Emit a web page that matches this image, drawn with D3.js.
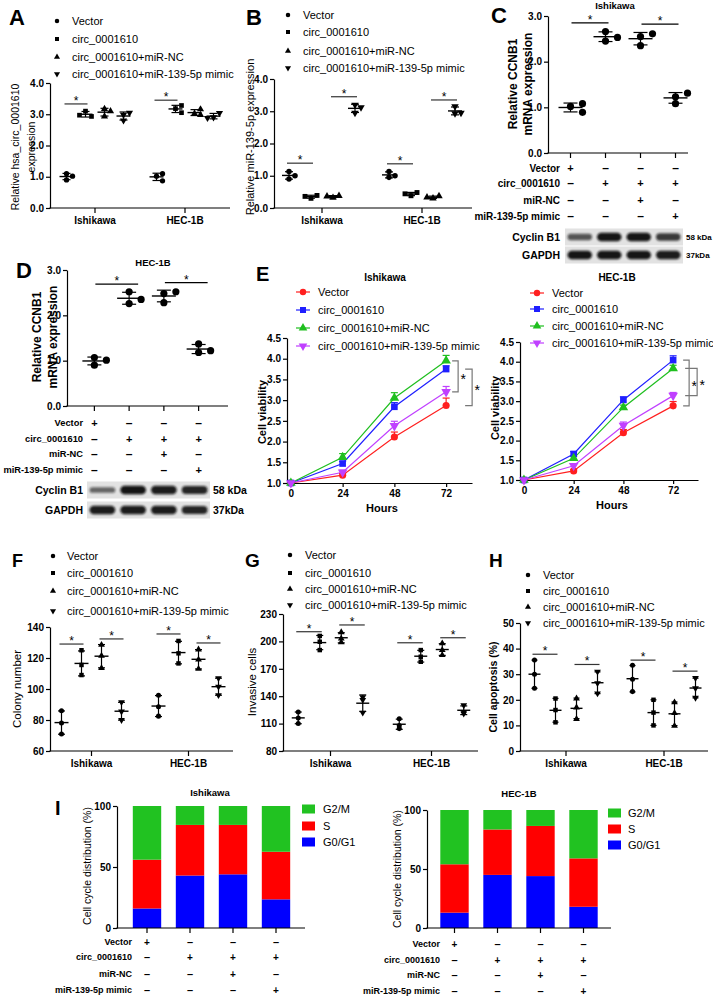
<!DOCTYPE html>
<html><head><meta charset="utf-8">
<script src="https://cdn.jsdelivr.net/npm/d3@7"></script>
<style>body{margin:0;background:#fff}svg{display:block}</style>
</head><body>
<svg id="c" width="713" height="996"></svg>
<script>
// ================= DATA =================
const cellLines = ["Ishikawa", "HEC-1B"];
const groupNames = ["Vector", "circ_0001610", "circ_0001610+miR-NC", "circ_0001610+miR-139-5p mimic"];
const conditionRows = ["Vector", "circ_0001610", "miR-NC", "miR-139-5p mimic"];
const conditionSigns = [["+","–","–","–"],["–","+","+","+"],["–","–","+","–"],["–","–","–","+"]];

// A: relative hsa_circ_0001610 expression (3 replicates / group)
const circExprIshikawa = [[1.1,0.9,1.02],[3.1,2.93,2.97],[3.17,2.93,3.1],[2.98,2.8,3.05]];
const circExprHEC      = [[1.02,0.87,1.1],[3.18,3.05,3.28],[3.02,3.16,2.98],[2.9,3.04,2.88]];
const circExprSig      = [[0,0,1,3.33],[1,0,1,3.45]];           // [cell line, group a, group b, level]

// B: relative miR-139-5p expression
const mirExprIshikawa = [[0.9,1.13,1.0],[0.3,0.39,0.36],[0.32,0.38,0.36],[2.95,3.2,3.12]];
const mirExprHEC      = [[0.95,1.13,1.0],[0.38,0.48,0.44],[0.3,0.37,0.33],[2.93,3.15,2.95]];
const mirExprSig      = [[0,0,1,1.39],[0,2,3,3.45],[1,0,1,1.37],[1,2,3,3.35]];

// C / D: relative CCNB1 mRNA expression
const ccnb1Ishikawa    = [[1.02,0.89,1.08],[2.45,2.66,2.53],[2.55,2.35,2.61],[1.23,1.08,1.31]];
const ccnb1IshikawaSig = [[0,1,2.85],[2,3,2.82]];
const ccnb1HEC         = [[0.9,1.07,1.01],[2.26,2.52,2.35],[2.48,2.28,2.52],[1.18,1.37,1.22]];
const ccnb1HECSig      = [[0,1,2.69],[2,3,2.72]];
const blotProteins = ["Cyclin B1", "GAPDH"];
const blotSizes    = ["58 kDa", "37kDa"];
const blotCyclinIshikawa = [0.55,0.95,0.95,0.72];
const blotGapdhIshikawa  = [0.95,0.95,0.95,0.9];
const blotCyclinHEC      = [0.45,0.95,0.9,0.85];
const blotGapdhHEC       = [0.9,0.9,0.9,0.85];

// E: cell viability (CCK-8)
const hours = [0, 24, 48, 72];
const viabIshVector = [1.0,1.19,2.11,2.87], viabIshVectorSD = [0,0.04,0.12,0.18];
const viabIshCirc   = [1.0,1.47,2.84,3.75], viabIshCircSD   = [0,0.05,0.1,0.08];
const viabIshNC     = [1.0,1.62,3.05,3.95], viabIshNCSD     = [0,0.09,0.13,0.13];
const viabIshMimic  = [1.0,1.26,2.38,3.2],  viabIshMimicSD  = [0,0.05,0.11,0.13];
const viabHECVector = [1.0,1.23,2.2,2.88],  viabHECVectorSD = [0,0.04,0.08,0.11];
const viabHECCirc   = [1.0,1.66,3.03,4.04], viabHECCircSD   = [0,0.06,0.08,0.11];
const viabHECNC     = [1.0,1.55,2.84,3.83], viabHECNCSD     = [0,0.05,0.06,0.08];
const viabHECMimic  = [1.0,1.36,2.38,3.14], viabHECMimicSD  = [0,0.05,0.09,0.08];
const viabIshSig = [[2,3],[1,0]];   // compared series at 72 h
const viabHECSig = [[1,0],[2,3]];

// F: colony number
const colonyIshikawa = [[86,78,71],[125,115.5,109],[128.5,121.5,113.5],[91.5,85.5,80]];
const colonyHEC      = [[96,88.5,82.5],[131,123,116.5],[125.5,119,113],[107,101.5,96]];
const colonySig      = [[0,0,1,129],[0,2,3,132.3],[1,0,1,135.5],[1,2,3,129.7]];

// G: invasive cells
const invasionIshikawa = [[122.8,116,110],[206,199.6,190.5],[210,203,199],[139,136,122]];
const invasionHEC      = [[115.4,108,104.5],[190.5,183.2,177.7],[197.8,190.5,185],[130,121,122.8]];
const invasionSig      = [[0,0,1,210.6],[0,2,3,218],[1,0,1,198.5],[1,2,3,204]];

// H: cell apoptosis (%)
const apoptosisIshikawa = [[35.5,30,24.5],[20.5,16,11.2],[20.5,17,12.5],[31,26.5,22.5]];
const apoptosisHEC      = [[33.5,28,23.2],[20,15,10],[19,14.8,9.8],[28.5,24.5,20.8]];
const apoptosisSig      = [[0,0,1,37.8],[0,2,3,33.8],[1,0,1,35.5],[1,2,3,31.2]];

// I: cell cycle distribution (%)
const phases = ["G0/G1", "S", "G2/M"];
const cycleIshG0G1 = [16, 43, 44, 23.5];
const cycleIshS    = [40, 41.5, 40.5, 39];
const cycleIshG2M  = [44, 15.5, 15.5, 37.5];
const cycleHECG0G1 = [13, 45, 44, 18];
const cycleHECS    = [41, 38.5, 42.5, 41];
const cycleHECG2M  = [46, 16.5, 13.5, 41];

// ================= DRAWING =================
const FONT = '"Liberation Sans", Arial, Helvetica, sans-serif';
const svg = d3.select("#c");
svg.append("defs").append("filter").attr("id","blur").attr("x","-20%").attr("y","-60%").attr("width","140%").attr("height","220%")
  .append("feGaussianBlur").attr("stdDeviation", 1.3);

function txt(g, x, y, s, o = {}) {
  const t = g.append("text").attr("x", x).attr("y", y).text(s)
    .attr("font-family", FONT).attr("font-size", o.size || 11)
    .attr("font-weight", o.bold ? "bold" : "normal")
    .attr("text-anchor", o.anchor || "start").attr("fill", o.fill || "#000");
  if (o.baseline) t.attr("dominant-baseline", o.baseline);
  if (o.rotate) t.attr("transform", `rotate(${o.rotate},${x},${y})`);
  return t;
}
function styleAxis(sel, size = 10, bold = true) {
  sel.attr("font-family", null).attr("font-size", null);
  sel.selectAll("text").attr("font-family", FONT).attr("font-size", size)
    .attr("font-weight", bold ? "bold" : "normal").attr("fill", "#000");
  sel.selectAll("line,path").attr("stroke", "#000").attr("stroke-width", 1.2);
}
const symTypes = [d3.symbolCircle, d3.symbolSquare, d3.symbolTriangle, d3.symbolTriangle];
const symRot = [0, 0, 0, 180];
function marker(g, x, y, i, size, fill) {
  g.append("path").attr("d", d3.symbol(symTypes[i], size)())
    .attr("transform", `translate(${x},${y}) rotate(${symRot[i]})`).attr("fill", fill || "#000");
}
function hline(g, x1, x2, y, w = 1.2, c = "#000") {
  g.append("line").attr("x1", x1).attr("x2", x2).attr("y1", y).attr("y2", y).attr("stroke", c).attr("stroke-width", w);
}
function vline(g, x, y1, y2, w = 1.2, c = "#000") {
  g.append("line").attr("x1", x).attr("x2", x).attr("y1", y1).attr("y2", y2).attr("stroke", c).attr("stroke-width", w);
}
function swarm(ys, d, r) {
  const placed = [];
  return ys.map(yv => {
    for (const off of [0, d, -d, 2 * d, -2 * d]) {
      if (placed.every(p => Math.hypot(p[0] - off, p[1] - yv) >= 2 * r)) { placed.push([off, yv]); return off; }
    }
    placed.push([0, yv]); return 0;
  });
}
function yTitle(g, lines, xs, cy, size, bold) {
  lines.forEach((l, i) => txt(g, xs[i], cy, l, {size, bold, anchor: "middle", baseline: "central", rotate: -90}));
}
function panelLabel(t, x, y, size) { txt(svg, x, y, t, {size, bold: true}); }

// ---------- grouped dot plots (A, B, F, G, H) ----------
function dotPanel(o) {
  const g = svg.append("g");
  const y = d3.scaleLinear().domain(o.yDomain).range(o.yRange);
  const xc = d3.scaleBand().domain(cellLines).range(o.catRange);
  const xi = d3.scaleBand().domain(d3.range(4)).range([-o.inner, o.inner]);
  const gx = (c, i) => xc(cellLines[c]) + xc.bandwidth() / 2 + xi(i) + xi.bandwidth() / 2;
  const yB = o.yRange[0];
  const ya = g.append("g").attr("transform", `translate(${o.axisX[0]},0)`)
    .call(d3.axisLeft(y).tickValues(o.yTicks).tickSize(4).tickPadding(2).tickSizeOuter(0));
  styleAxis(ya);
  const xa = g.append("g").attr("transform", `translate(0,${yB})`)
    .call(d3.axisBottom(xc).tickSize(5).tickPadding(4));
  xa.select(".domain").remove();
  styleAxis(xa);
  hline(g, o.axisX[0] - 0.6, o.axisX[1], yB);

  o.data.forEach((cell, c) => cell.forEach((vals, i) => {
    const cx = gx(c, i);
    const pos = swarm(vals.map(v => y(v)), o.jitter, o.r);
    vals.forEach((v, k) => marker(g, cx + pos[k], y(v), i, o.msize));
    const m = d3.mean(vals), sd = d3.deviation(vals);
    hline(g, cx - o.meanHW, cx + o.meanHW, y(m), 1.4);
    vline(g, cx, y(m - sd), y(m + sd), 1.2);
    hline(g, cx - o.capHW, cx + o.capHW, y(m - sd), 1.2);
    hline(g, cx - o.capHW, cx + o.capHW, y(m + sd), 1.2);
  }));
  o.sig.forEach(([c, a, b, lv]) => {
    const x1 = gx(c, a) - 2, x2 = gx(c, b) + 2, yy = y(lv);
    hline(g, x1, x2, yy, 1.2, "#333");
    txt(g, (x1 + x2) / 2, yy + 1, "*", {size: 12, anchor: "middle"});
  });
  groupNames.forEach((n, i) => {
    marker(g, o.legend.x, o.legend.ys[i], i, 16);
    txt(g, o.legend.tx, o.legend.ys[i], n, {size: 11, baseline: "central"});
  });
  yTitle(g, o.ytitle.lines, o.ytitle.xs, o.ytitle.cy, o.ytitle.size, o.ytitle.bold);
}

// ---------- condition dot plot + table + blot (C, D) ----------
function condPanel(o) {
  const g = svg.append("g");
  const y = d3.scaleLinear().domain([0, 3]).range(o.yRange);
  const x = d3.scaleBand().domain(d3.range(4)).range(o.catRange);
  const cx = i => x(i) + x.bandwidth() / 2;
  const yB = o.yRange[0];
  const ya = g.append("g").attr("transform", `translate(${o.axisX[0]},0)`)
    .call(d3.axisLeft(y).tickValues([0, 1, 2, 3]).tickSize(4).tickPadding(2).tickSizeOuter(0));
  styleAxis(ya);
  const xa = g.append("g").attr("transform", `translate(0,${yB})`)
    .call(d3.axisBottom(x).tickSize(5).tickFormat(""));
  xa.select(".domain").remove();
  styleAxis(xa);
  hline(g, o.axisX[0] - 0.6, o.axisX[1], yB);
  o.data.forEach((vals, i) => {
    const c = cx(i);
    const pos = swarm(vals.map(v => y(v)), 12, 3.2);
    vals.forEach((v, k) => g.append("circle").attr("cx", c + pos[k]).attr("cy", y(v)).attr("r", 3.6).attr("fill", "#000"));
    const m = d3.mean(vals), sd = d3.deviation(vals);
    hline(g, c - 12, c + 12, y(m), 1.4);
    vline(g, c, y(m - sd), y(m + sd), 1.2);
    hline(g, c - 7, c + 7, y(m - sd), 1.2);
    hline(g, c - 7, c + 7, y(m + sd), 1.2);
  });
  o.sig.forEach(([a, b, lv]) => {
    const x1 = cx(a) + o.sigShift[0], x2 = cx(b) + o.sigShift[1], yy = y(lv);
    hline(g, x1, x2, yy, 1.2);
    txt(g, (x1 + x2) / 2, yy + 1, "*", {size: 12, anchor: "middle"});
  });
  txt(g, o.title.x, o.title.y, o.title.t, {size: 9.5, bold: true, anchor: "middle", baseline: "central"});
  yTitle(g, ["Relative CCNB1", "mRNA expression"], o.ytitleX, o.ytitleY, 12, true);
  conditionRows.forEach((r, ri) => {
    txt(g, o.labelX, o.rows[ri], r, {size: o.tableSize, bold: true, anchor: "end", baseline: "central"});
    conditionSigns[ri].forEach((s, j) => txt(g, cx(j), o.rows[ri], s, {size: s === "+" ? 11 : 12, bold: true, anchor: "middle", baseline: "central"}));
  });
  const lanes = d3.scaleBand().domain(d3.range(4)).range([o.blot.x0, o.blot.x1]);
  [o.blot.cyclin, o.blot.gapdh].forEach((vals, ri) => {
    const yc = o.blot.ys[ri];
    g.append("rect").attr("x", o.blot.x0).attr("y", yc - 8.5).attr("width", o.blot.x1 - o.blot.x0).attr("height", 17).attr("fill", "#e2e2e2");
    vals.forEach((v, j) => {
      const h = 3 + 6 * v;
      g.append("rect").attr("x", lanes(j) + 2.5).attr("y", yc - h / 2).attr("width", lanes.bandwidth() - 5).attr("height", h)
        .attr("rx", h / 2).attr("fill", "#111").attr("opacity", 0.25 + 0.75 * v).attr("filter", "url(#blur)");
    });
    txt(g, o.labelX, yc, blotProteins[ri], {size: 10.5, bold: true, anchor: "end", baseline: "central"});
    txt(g, o.blot.x1 + 3, yc, blotSizes[ri], {size: o.blot.kdaSize, bold: true, baseline: "central"});
  });
}

// ---------- line charts (E) ----------
const seriesColors = ["#ff1f1f", "#1f1fff", "#1fbf1f", "#c040ff"];
function linePanel(o) {
  const g = svg.append("g");
  const x = d3.scaleLinear().domain(o.xDomain).range(o.xRange);
  const y = d3.scaleLinear().domain([1, 4.5]).range(o.yRange);
  const ya = g.append("g").attr("transform", `translate(${o.xRange[0]},0)`)
    .call(d3.axisLeft(y).tickValues([1, 1.5, 2, 2.5, 3, 3.5, 4, 4.5]).tickFormat(d3.format(".1f")).tickSize(4).tickPadding(2).tickSizeOuter(0));
  styleAxis(ya);
  const xa = g.append("g").attr("transform", `translate(0,${o.yRange[0]})`)
    .call(d3.axisBottom(x).tickValues(hours).tickSize(4).tickPadding(3).tickSizeOuter(0));
  styleAxis(xa);
  const line = d3.line().x((d, k) => x(hours[k])).y(d => y(d));
  o.series.forEach((s, i) => {
    g.append("path").attr("d", line(s.vals)).attr("fill", "none").attr("stroke", seriesColors[i]).attr("stroke-width", 1.2);
    s.vals.forEach((v, k) => {
      if (s.sd[k] > 0) {
        vline(g, x(hours[k]), y(v), y(v + s.sd[k]), 1.2, seriesColors[i]);
        hline(g, x(hours[k]) - 3.5, x(hours[k]) + 3.5, y(v + s.sd[k]), 1.2, seriesColors[i]);
      }
    });
  });
  o.series.forEach((s, i) => s.vals.forEach((v, k) => marker(g, x(hours[k]), y(v), i, i === 1 ? 44 : 40, seriesColors[i])));
  o.sig.forEach(([a, b], j) => {
    const bx = x(72) + o.bx[j], tl = o.bt[j];
    const y1 = y(o.series[a].vals[3]), y2 = y(o.series[b].vals[3]);
    g.append("path").attr("d", `M${bx - tl},${y1}H${bx}V${y2}H${bx - tl}`).attr("fill", "none").attr("stroke", "#777").attr("stroke-width", 1.2);
    txt(g, bx + 5, (y1 + y2) / 2 + 8, "*", {size: 14, anchor: "middle"});
  });
  groupNames.forEach((n, i) => {
    hline(g, o.legend.x - 7, o.legend.x + 7, o.legend.ys[i], 1.2, seriesColors[i]);
    marker(g, o.legend.x, o.legend.ys[i], i, i === 1 ? 36 : 32, seriesColors[i]);
    txt(g, o.legend.tx, o.legend.ys[i], n, {size: 11, baseline: "central"});
  });
  txt(g, o.title.x, o.title.y, o.title.t, {size: 10, bold: true, anchor: "middle", baseline: "central"});
  txt(g, o.hoursPos[0], o.hoursPos[1], "Hours", {size: 11, bold: true, anchor: "middle", baseline: "central"});
  yTitle(g, ["Cell viability"], [o.ytitle[0]], o.ytitle[1], 11, true);
}

// ---------- stacked bars (I) ----------
const phaseColors = {"G0/G1": "#0000ff", "S": "#ff0000", "G2/M": "#21c221"};
function stackPanel(o) {
  const g = svg.append("g");
  const y = d3.scaleLinear().domain([0, 100]).range(o.yRange);
  const x = d3.scaleBand().domain(d3.range(4)).range(o.bandRange).paddingInner(0.34).paddingOuter(0.17);
  const rows = d3.range(4).map(i => ({"G0/G1": o.g0[i], "S": o.s[i], "G2/M": o.g2[i]}));
  const stacked = d3.stack().keys(phases)(rows);
  stacked.forEach(layer => layer.forEach((d, i) => {
    g.append("rect").attr("x", x(i)).attr("width", x.bandwidth())
      .attr("y", y(d[1])).attr("height", y(d[0]) - y(d[1])).attr("fill", phaseColors[layer.key]);
  }));
  const ya = g.append("g").attr("transform", `translate(${o.axisX[0]},0)`)
    .call(d3.axisLeft(y).tickValues([0, 50, 100]).tickSize(4).tickPadding(2).tickSizeOuter(0));
  styleAxis(ya);
  const xa = g.append("g").attr("transform", `translate(0,${o.yRange[0]})`)
    .call(d3.axisBottom(x).tickSize(5).tickFormat(""));
  xa.select(".domain").remove();
  styleAxis(xa);
  hline(g, o.axisX[0] - 0.6, o.axisX[1], o.yRange[0]);
  ["G2/M", "S", "G0/G1"].forEach((p, i) => {
    g.append("rect").attr("x", o.legend.x).attr("y", o.legend.ys[i] - 4.5).attr("width", 13).attr("height", 9).attr("fill", phaseColors[p]);
    txt(g, o.legend.tx, o.legend.ys[i], p, {size: 11, baseline: "central"});
  });
  txt(g, o.title.x, o.title.y, o.title.t, {size: 9.5, bold: true, anchor: "middle", baseline: "central"});
  yTitle(g, ["Cell cycle distribution (%)"], [o.ytitle[0]], o.ytitle[1], 10.5, false);
  conditionRows.forEach((r, ri) => {
    txt(g, o.labelX, o.rows[ri], r, {size: 9, bold: true, anchor: "end", baseline: "central"});
    conditionSigns[ri].forEach((s, j) => txt(g, x(j) + x.bandwidth() / 2, o.rows[ri], s, {size: s === "+" ? 10 : 11, bold: true, anchor: "middle", baseline: "central"}));
  });
}

// ================= PANELS =================
// A
dotPanel({axisX: [50, 230], catRange: [50, 230], inner: 38, yDomain: [0, 4], yRange: [208, 83], yTicks: [0, 1, 2, 3, 4],
  data: [circExprIshikawa, circExprHEC], sig: circExprSig, jitter: 6, r: 2.8, msize: 22, meanHW: 7, capHW: 4,
  legend: {x: 57, tx: 72, ys: [21, 39, 57, 74]},
  ytitle: {lines: ["Relative  hsa_circ_0001610", "expression"], xs: [15, 31], cy: 147, size: 10.5, bold: false}});
panelLabel("A", 9, 25, 22);
// B
dotPanel({axisX: [274, 472], catRange: [272, 472], inner: 44, yDomain: [0, 4], yRange: [208, 79], yTicks: [0, 1, 2, 3, 4],
  data: [mirExprIshikawa, mirExprHEC], sig: mirExprSig, jitter: 6, r: 2.8, msize: 24, meanHW: 7, capHW: 4,
  legend: {x: 288, tx: 303, ys: [15, 32, 51, 68]},
  ytitle: {lines: ["Relative miR-139-5p expression"], xs: [250], cy: 137, size: 11, bold: false}});
panelLabel("B", 246, 25, 22);
// C
condPanel({axisX: [548, 688], catRange: [553, 693], yRange: [153, 16], data: ccnb1Ishikawa, sig: ccnb1IshikawaSig, sigShift: [1, 3],
  title: {t: "Ishikawa", x: 615, y: 5}, ytitleX: [513, 528], ytitleY: 84,
  labelX: 560, rows: [168, 183, 200, 216], tableSize: 10,
  blot: {x0: 565, x1: 683, ys: [237, 255], cyclin: blotCyclinIshikawa, gapdh: blotGapdhIshikawa, kdaSize: 8}});
panelLabel("C", 491, 23, 22);
// D
condPanel({axisX: [67, 228], catRange: [77, 216], yRange: [406, 270], data: ccnb1HEC, sig: ccnb1HECSig, sigShift: [1, 9],
  title: {t: "HEC-1B", x: 153, y: 262}, ytitleX: [37, 53], ytitleY: 337,
  labelX: 83, rows: [423, 439, 454, 470], tableSize: 9.3,
  blot: {x0: 87, x1: 210, ys: [490, 510], cyclin: blotCyclinHEC, gapdh: blotGapdhHEC, kdaSize: 10.5}});
panelLabel("D", 16, 278, 22);
// E
linePanel({xDomain: [-1.8, 84], xRange: [287, 472], yRange: [483, 338],
  series: [{vals: viabIshVector, sd: viabIshVectorSD}, {vals: viabIshCirc, sd: viabIshCircSD},
           {vals: viabIshNC, sd: viabIshNCSD}, {vals: viabIshMimic, sd: viabIshMimicSD}],
  sig: viabIshSig, bx: [12, 26], bt: [6, 7],
  legend: {x: 303, tx: 318, ys: [292, 310, 328, 346]},
  title: {t: "Ishikawa", x: 385, y: 277}, hoursPos: [382, 508], ytitle: [262, 412]});
linePanel({xDomain: [-1.9, 84], xRange: [520, 698], yRange: [480, 342],
  series: [{vals: viabHECVector, sd: viabHECVectorSD}, {vals: viabHECCirc, sd: viabHECCircSD},
           {vals: viabHECNC, sd: viabHECNCSD}, {vals: viabHECMimic, sd: viabHECMimicSD}],
  sig: viabHECSig, bx: [16, 24], bt: [6, 12],
  legend: {x: 537, tx: 552, ys: [293, 309, 326, 343]},
  title: {t: "HEC-1B", x: 617, y: 277}, hoursPos: [612, 505], ytitle: [495, 408]});
panelLabel("E", 256, 281, 20);
// F
dotPanel({axisX: [50, 233], catRange: [43, 237], inner: 40, yDomain: [60, 140], yRange: [751, 627], yTicks: [60, 80, 100, 120, 140],
  data: [colonyIshikawa, colonyHEC], sig: colonySig, jitter: 0, r: 2.5, msize: 20, meanHW: 7, capHW: 3.5,
  legend: {x: 53, tx: 67, ys: [556, 573, 591, 611]},
  ytitle: {lines: ["Colony number"], xs: [17], cy: 689, size: 11.5, bold: false}});
panelLabel("F", 12, 567, 18);
// G
dotPanel({axisX: [283, 478], catRange: [280, 482], inner: 43, yDomain: [80, 230], yRange: [751, 614], yTicks: [80, 110, 140, 170, 200, 230],
  data: [invasionIshikawa, invasionHEC], sig: invasionSig, jitter: 0, r: 2.5, msize: 20, meanHW: 6.5, capHW: 3.5,
  legend: {x: 290, tx: 305, ys: [555, 573, 589, 605]},
  ytitle: {lines: ["Invasive cells"], xs: [252], cy: 682, size: 11.5, bold: false}});
panelLabel("G", 245, 567, 19);
// H
dotPanel({axisX: [520, 708], catRange: [517, 713], inner: 42, yDomain: [0, 50], yRange: [751, 623], yTicks: [0, 10, 20, 30, 40, 50],
  data: [apoptosisIshikawa, apoptosisHEC], sig: apoptosisSig, jitter: 0, r: 2.5, msize: 20, meanHW: 6, capHW: 3,
  legend: {x: 528, tx: 543, ys: [575, 591, 607, 623]},
  ytitle: {lines: ["Cell apoptosis (%)"], xs: [493], cy: 687, size: 10.5, bold: true}});
panelLabel("H", 489, 567, 19);
// I
stackPanel({axisX: [117, 305], yRange: [928, 806], bandRange: [125.5, 297.5],
  g0: cycleIshG0G1, s: cycleIshS, g2: cycleIshG2M,
  legend: {x: 302, tx: 323, ys: [809, 826, 842]}, title: {t: "Ishikawa", x: 210, y: 792}, ytitle: [87, 866],
  labelX: 132, rows: [942, 957, 974, 990]});
stackPanel({axisX: [427, 611], yRange: [928, 810], bandRange: [433, 605],
  g0: cycleHECG0G1, s: cycleHECS, g2: cycleHECG2M,
  legend: {x: 608, tx: 628, ys: [813, 829, 845]}, title: {t: "HEC-1B", x: 519, y: 793}, ytitle: [397, 869],
  labelX: 440, rows: [944, 960, 975, 991]});
panelLabel("I", 55, 815, 20);
</script>
</body></html>
